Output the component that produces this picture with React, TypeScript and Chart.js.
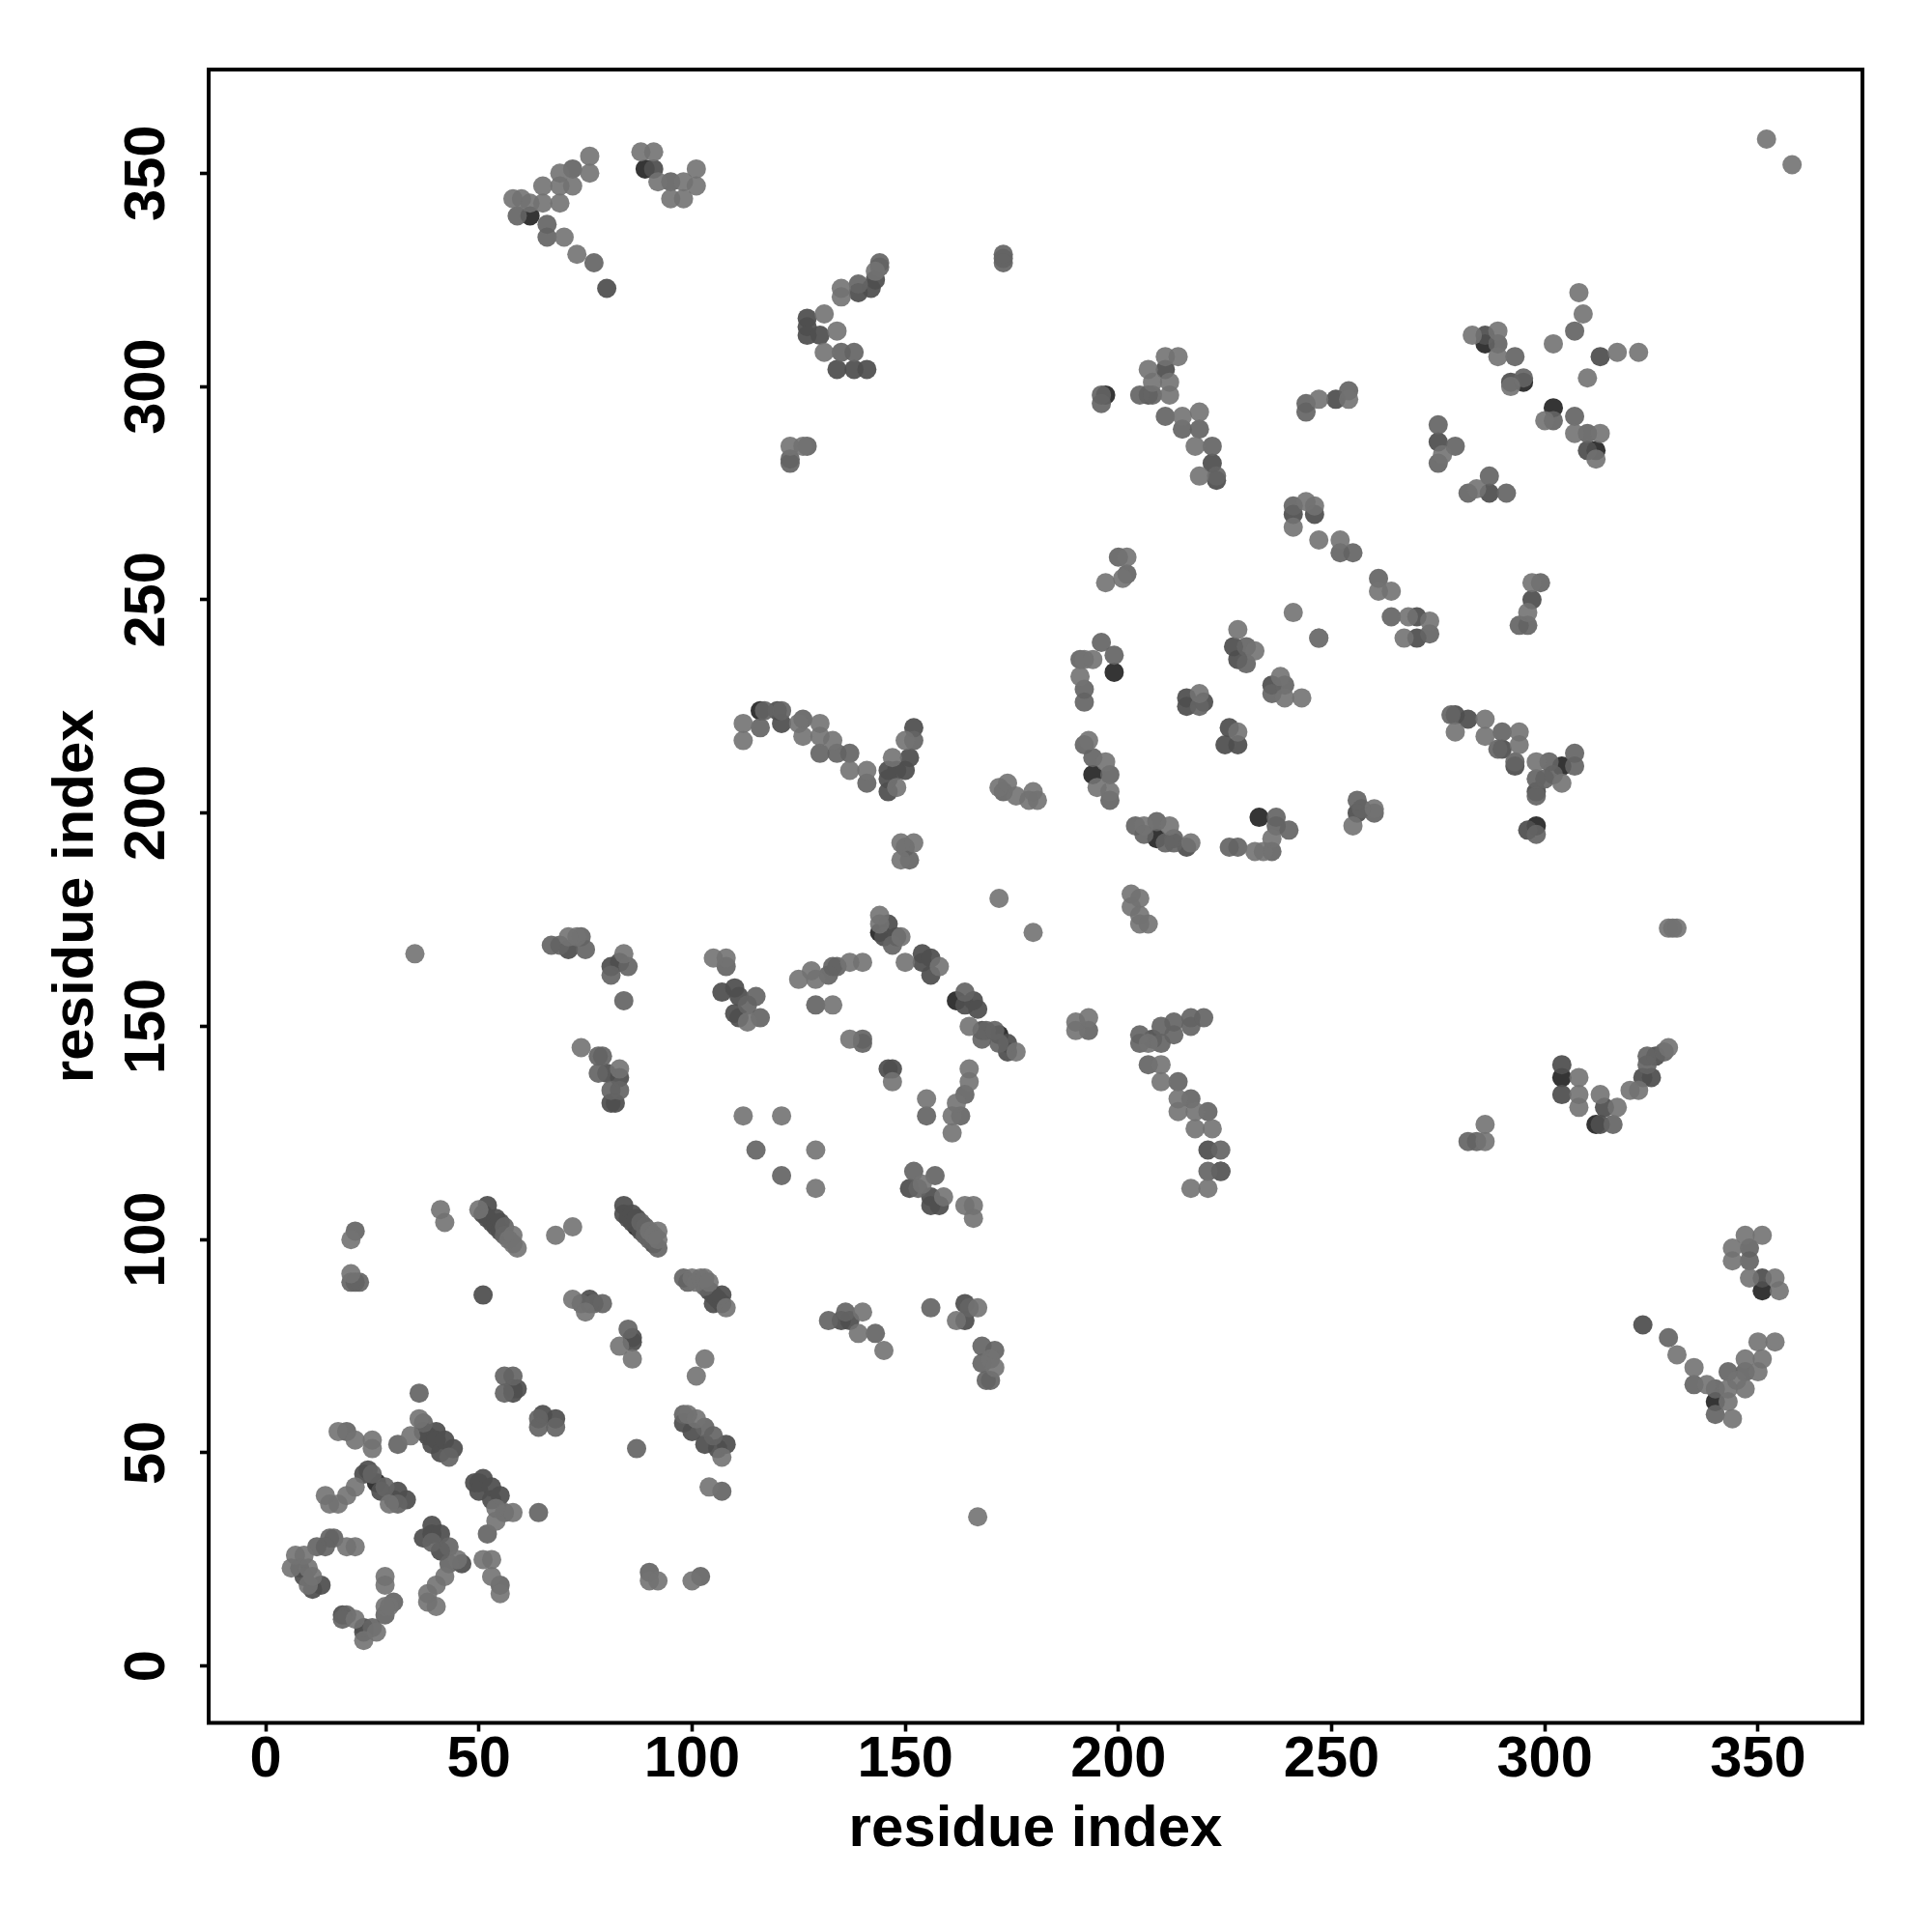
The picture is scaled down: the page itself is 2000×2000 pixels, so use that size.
import React, { useEffect, useRef } from "react";
import { Chart, registerables } from "chart.js";

Chart.register(...registerables);

type C = number[];

const xTicks = [0, 50, 100, 150, 200, 250, 300, 350];
const xLabel = "residue index";
const yLabel = "residue index";

// each entry: residue i, residue j, optional contact strength class (0 weakest .. 3 strongest)
const lowerLeft: C[] = [
  [21,102,1],[20,100],[20,92],[20,90,1],[22,90,1],[21,90,1],[42,104],[41,107],[51,87,2],
  [50,107],[51,106,2],[52,108,2],[52,105,2],[53,104,2],[54,105,2],[54,103,2],[55,104,2],[55,102,2],[56,103,1],[56,101,1],[57,100],[58,99],[58,101],[59,98],
  [68,101],[72,103],
  [84,108,2],[84,106,2],[85,105,2],[86,106,2],[86,104,2],[87,105,2],[87,103,3],[88,104,1],[88,102,2],[89,103,1],[89,101,1],[90,102],[90,100,1],[91,101],[91,99,2],[92,98,1],[92,102],[92,100],
  [98,91,1],[99,90,1],[100,91],[101,90],[102,91],[103,89,1],[103,91],[104,88,2],[104,90],[105,87,2],[105,85,2],[106,86,2],[107,85,2],[107,87,2],[108,84],
  [72,86],[74,85,1],[76,85,2],[76,86,2],[77,85,1],[79,85,1],[75,83],
  [85,79,1],[86,77,2],[83,75],[86,76,2],[86,72],[103,72],[101,68],
  [56,68,1],[58,68,1],[56,64,1],[58,65,2],[59,65,2],[58,64,2],
  [36,64,1],[36,58],[34,54],[37,57,1],[37,55,2],[38,54,2],[39,52,2],[40,55,2],[40,53,2],[41,50,2],[42,53,2],[43,49,1],[44,51,2],[31,52,1],
  [17,55],[19,55,1],[21,53],[25,53],[25,51],
  [64,58,1],[64,56,1],[65,59,2],[68,56,1],[68,58,2],[87,51,1],
  [98,59,1],[99,59],[98,57,2],[100,55,2],[101,58],[103,56,1],[103,52,2],[105,54,1],[106,51,2],[107,49],[108,52,2],
  [104,42],[107,41,1],
  [14,40],[15,38],[17,38],[19,40],[21,42],
  [23,45,2],[24,46,2],[25,45,1],[26,43,3],[27,41,2],[28,42,1],[29,38],[30,39,2],[31,41,2],[31,38,1],[33,39,2],
  [49,43,2],[50,43,2],[51,44,2],[50,41,2],[53,42,2],[53,39,2],[55,40,2],[54,37],[56,36,1],[58,36],[54,34],[64,36,1],[52,31,1],
  [39,33,2],[37,30,2],[39,31,2],[41,31,2],[39,29,1],[43,28,1],[41,27,2],[43,24,1],[45,25],[46,24,2],
  [42,21],[40,19],[38,17],[38,15],[40,14],
  [51,25],[53,25],[53,21],[55,19,1],[55,17],
  [90,22,1],[90,20],[92,20],[102,21,1],[100,20],
  [15,30,1],[16,30,1],[14,28,1],[12,28,1],[19,28],[21,28],
  [9,26],[7,26],[6,23],[8,23,2],[10,23],[9,21,2],[10,19],[11,21],[11,18,2],[13,19,2],
  [28,21],[28,19],[30,15,1],[28,14],[29,14],[28,12,1],
  [18,12,2],[19,12,1],[18,11,1],[21,11],[23,9,2],[23,8,2],[23,6],[25,9,1],[26,8],
];

const midLeft: C[] = [
  [67,169,1],[69,169,1],[71,168,2],[71,171],[73,171],[74,171,1],[75,168,1],
  [81,162,1],[81,164,2],[83,165,2],[84,167],[85,164,1],[84,156,1],
  [74,145],[78,143,1],[79,143,1],[78,139,1],[80,139,2],[83,140],[83,138,2],[81,135,1],[83,135,1],[82,132,2],[81,132,2],
  [105,166],[108,166],[108,164,1],[107,158,2],[110,159,2],[111,157,2],[115,157,1],[110,153,2],[113,155,1],[111,152,2],[113,151],[116,152,1],
  [125,161],[128,163],[129,161],[133,164,1],[132,162,1],[134,164,1],[137,165],[140,165],
  [129,155,1],[133,155],[137,147],[140,147,1],[140,146,1],
  [146,140,2],[147,140,2],[147,137],
  [112,129],[121,129],[115,121,1],[129,121],[121,115,1],[129,112],
  [155,133],[155,129,1],
  [165,140],[165,137],[164,134,1],[162,132],[163,129,1],[161,129],[161,125],
  [144,172,3],[144,176],[144,174],[146,174,2],[145,171,2],[148,171,2],[149,171],[147,169,1],[150,165],
  [154,165,2],[154,167,2],[156,166,2],[156,162,2],[158,164],
  [162,156,3],[164,155,2],[164,158,1],[166,156,2],[167,154,2],
  [165,150],[168,147,1],[168,149,2],[169,149,1],[171,149,1],[172,148,3],[172,146,1],[174,144,2],[174,146,2],[176,144],
  [172,180],
  [152,116,1],[151,112,2],[153,112,1],[154,113],[157,115,1],[156,110,2],[159,110],[156,108,2],[158,108,2],[164,108],[166,108],[166,105],
  [132,81,1],[135,81,2],[136,83,1],[137,81,2],[140,83],[139,78],[143,78,1],[145,74],
  [156,84,1],[162,81],[164,81,2],[164,85,2],[165,84,1],[167,84],
  [168,75,1],[171,74,1],[168,71,1],[170,72],[171,70],[169,67,1],[170,67,1],
  [35,167],[167,35],[180,172],
  [149,193],[149,189],[151,189,1],[150,192,1],[152,193],
  [172,206],[173,205,1],[174,207],[176,204],[180,205],[179,203],[181,203],
];

const centre: C[] = [
  [196,240,1],[191,236,1],[192,236],[194,236],[199,237,1],[199,233,3],[191,232],[192,229,1],[192,226,1],
  [216,227,2],[216,225,2],[219,228],[219,225,1],[220,226,2],
  [226,220,2],[228,219],[225,216,2],[228,216,2],
  [236,230,2],[236,228,1],[238,232],[239,230,1],[239,227],[243,227],
  [228,243],[227,239,2],[230,239,1],[232,238],[228,236,2],[230,235,1],[247,241],
  [193,217],[192,216,1],[194,213,1],[197,212],[194,209,3],[195,206],[198,209,1],[198,205],[198,203,1],
  [203,181],[205,180],[203,178],[205,176],[205,174],[207,174],
  [204,197,1],[206,197],[206,195,1],[209,198,1],[209,194,3],[212,197],[213,194,1],[211,193,1],[213,193,1],[217,193],[216,192,2],
  [226,192,1],[228,192,1],[232,191],[234,191],[236,191,1],[236,194],[233,199,3],[237,199,1],[240,196,1],[237,197,1],
  [256,203,1],[256,200,2],[257,201,1],[260,201],[260,200,1],[255,197],
  [190,151],[190,149],[193,149,1],[193,152],
  [205,148,1],[205,146,1],[207,146],[208,147,2],[210,150,1],[210,146,1],[213,148,1],[213,151,1],[217,150,1],[217,152,1],[220,152,1],
  [207,141,1],[210,141],[210,137],[214,137,1],[214,133],[217,133,1],[214,130],[218,130],[221,130,1],[218,126],[222,126],
  [221,121,2],[224,121,1],[221,116,1],[224,116,3],[224,116,1],[217,112],[221,112],
];

const upperMiddle: C[] = [
  [196,298,1],[197,298,3],[196,296,1],
  [205,298,1],[207,298,2],[208,301],[207,304],[211,304,2],[208,298,1],[211,307],[214,307],[212,301],[212,298],
  [211,293,1],[215,293],[215,290,1],[219,294],[219,290,1],[218,286],[222,286,1],[222,282,2],[219,279],[223,279,1],[223,278,2],
  [244,296,1],[244,294,1],[247,297],[251,297,2],[254,297],[254,299,1],
  [275,291,1],[275,287,2],[279,286,1],[276,284],[275,282,1],
  [287,279,1],[282,275,1],[284,276],[287,275,2],[291,275,1],
  [283,312],[286,310,3],[286,312,2],[289,310,1],[289,313],[289,307],[293,307,1],
  [292,301,2],[292,300],[295,301,3],[295,302,1],
  [302,310],[307,313,1],[309,317],[308,322],[310,302],[313,307,2],[317,308],[322,308],
  [300,292],[302,295,3],[302,292,1],[307,293,1],[307,289],[310,289,1],[312,285,3],[310,285,2],[312,283],[313,289],
  [241,247],[247,241],
  [261,255,1],[261,252],[264,252],[264,246,1],[267,241],[268,246],[270,246,2],[270,241,2],[273,245],[273,242,1],
  [241,272,1],[241,270,2],[241,267],[244,273],[246,270,2],[246,272],[247,264],[252,264],[252,261,1],[255,261,1],
  [200,260,1],[202,260],[197,254],[201,255],[202,256,1],
  [297,254],[299,254,1],[297,250,2],[296,247],[294,244,1],[296,244,1],
];

const topLeft: C[] = [
  [59,340,1],[62,340,3],[58,344],[60,344],[62,343],[65,347],[65,343],[69,350],[69,347],[69,343],[66,338,1],[66,335,1],[70,335],[72,351,1],[72,347],[76,354],[76,350],[73,331],[77,329,1],[80,323,2],
  [88,355],[89,351,3],[91,351,2],[91,355],[92,348],[95,348,1],[98,348],[101,351],[101,347],[95,344],[98,344],
  [127,316,2],[127,314,2],[127,312,2],[130,312,2],[131,317],[134,313],[131,308],[135,308,1],[138,308,1],[134,304,2],[138,304,2],[141,304,2],
  [135,323],[135,321],[139,324,1],[139,322,2],[142,323,2],[143,325,2],[143,327],[144,328,1],[144,329,1],
  [123,286],[123,283,1],[123,282,1],[126,286],[127,286,1],
  [173,331,1],[173,330,1],[173,329,1],
  [352,358],[358,352],
];

const topMiddle: C[] = [
  [112,221],[112,217],[116,224,3],[116,220,1],[117,224,1],[120,224,2],[121,221,2],[121,224,1],[125,221],[126,222,1],[126,218],[130,221],[130,218],[133,217],[130,214,1],[134,214,1],[137,214,1],[137,210],[141,210],[141,207,1],
  [146,205,2],[146,208,2],[146,210,2],[147,213],[148,210,2],[148,206],[150,210,2],[151,213,2],[150,217],[152,217,1],[152,220,2],
];

const lowerRight: C[] = [
  [282,123,1],[284,123,1],[286,123],[286,127],
  [304,141,2],[304,138,3],[304,134,2],[308,138],[308,134],[308,131],
  [312,127,3],[313,127,2],[313,134],[314,131,2],[316,127,1],[317,131],
  [320,135],[322,135],[323,138,2],[324,141,1],[324,143,1],[325,138,2],[326,143,2],[328,144,1],[329,145],
  [329,173],[330,173],[331,173],
  [323,80,2],[329,77,1],[331,73],[335,70],[335,66,1],[338,66],[340,65,1],[340,62,3],[340,59,1],[343,62],[343,65],[343,69,1],[344,58],
  [345,67],[347,65],[347,69,1],[347,72],[350,69],[351,72],[350,76],[354,76],
  [347,101],[351,101],[344,98],[344,95],[348,98,1],[348,95,1],[348,91],[351,91,2],[351,88,3],[354,91],[355,88],
];

const rightEdge: C[] = [
  [278,223,1],[279,223,2],[282,222,2],[279,219],[286,222],[286,218],[290,219,1],[289,215,1],[290,215,2],[294,219],[293,211,2],[293,212,1],[294,216],
  [298,212],[298,204,1],[298,205,2],[298,208,1],[300,208,1],[301,212,1],[302,209,1],[304,211,3],[304,207],[307,211,1],[307,214,1],
  [296,196,2],[298,195,1],[298,197,3],
];

const contacts = [...lowerLeft, ...midLeft, ...centre, ...upperMiddle, ...topLeft, ...topMiddle, ...lowerRight, ...rightEdge]
  .sort((a, b) => (b[2] ?? 0) - (a[2] ?? 0));
const strengthColours = ["rgba(114,114,114,0.9)", "rgba(100,100,100,0.92)", "rgba(80,80,80,0.94)", "rgba(45,45,45,0.96)"];

const boxPlugin = {
  id: "box",
  afterDraw(chart: any) {
    const { ctx, chartArea: a } = chart;
    ctx.save();
    ctx.strokeStyle = "#000";
    ctx.lineWidth = 4;
    ctx.strokeRect(a.left, a.top, a.right - a.left, a.bottom - a.top);
    ctx.restore();
  },
};

export default function App() {
  const ref = useRef<HTMLCanvasElement>(null);
  useEffect(() => {
    const tick = { size: 59.5, family: "'Liberation Sans'", weight: "bold" as const };
    const title = { size: 60, family: "'Liberation Sans'", weight: "bold" as const, lineHeight: 1.2 };
    const grid = { drawOnChartArea: false, drawTicks: true, tickLength: 9, tickWidth: 3.6, tickColor: "#000", color: "#000" };
    const chart = new Chart(ref.current!, {
      type: "scatter",
      data: {
        datasets: [{
          data: contacts.map((c) => ({ x: c[0], y: c[1] })),
          backgroundColor: contacts.map((c) => strengthColours[c[2] ?? 0]),
          borderWidth: 0,
          pointRadius: 10,
          pointHoverRadius: 10,
        }],
      },
      options: {
        animation: false,
        responsive: false,
        devicePixelRatio: 1,
        layout: { padding: { left: 0, right: 72, top: 72, bottom: 0 } },
        plugins: { legend: { display: false }, tooltip: { enabled: false } },
        scales: {
          x: {
            type: "linear",
            min: -13.37,
            max: 374.5,
            grid,
            border: { display: false },
            afterFit: (s: any) => { s.height = 216.5; },
            afterBuildTicks: (s: any) => { s.ticks = xTicks.map((value) => ({ value })); },
            ticks: { autoSkip: false, maxRotation: 0, minRotation: 0, color: "#000", font: tick, padding: -6 },
            title: { display: true, text: xLabel, color: "#000", font: title, padding: { top: 0, bottom: 70 } },
          },
          y: {
            type: "linear",
            min: -13.3,
            max: 374.3,
            grid,
            border: { display: false },
            afterFit: (s: any) => { s.width = 216; },
            afterBuildTicks: (s: any) => { s.ticks = xTicks.map((value) => ({ value })); },
            ticks: { autoSkip: false, minRotation: 90, maxRotation: 90, crossAlign: "center", color: "#000", font: tick, padding: 4 },
            title: { display: true, text: yLabel, color: "#000", font: title, padding: { top: 43, bottom: 0 } },
          },
        },
      },
      plugins: [boxPlugin],
    } as any);
    return () => chart.destroy();
  }, []);
  return (
    <canvas ref={ref} width={2000} height={2000} style={{ position: "absolute", left: 0, top: 0, width: 2000, height: 2000, background: "#fff" }} />
  );
}
